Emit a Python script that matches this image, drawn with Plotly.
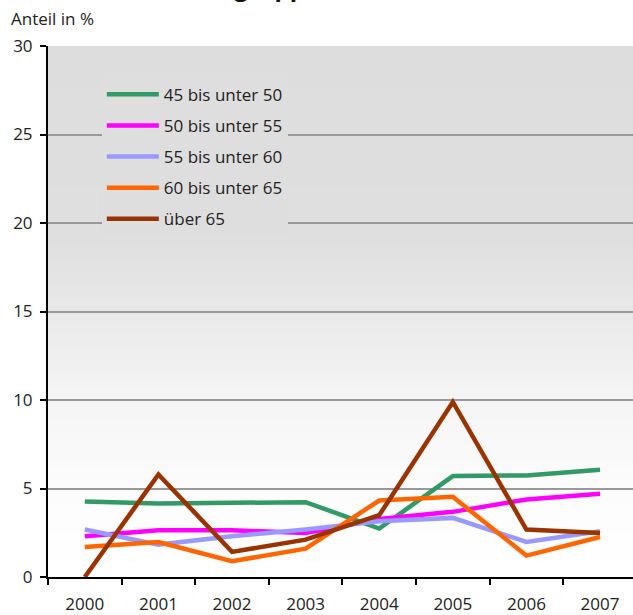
import zlib, struct, base64
import plotly.graph_objects as go

# ---- data ----
years = ["2000", "2001", "2002", "2003", "2004", "2005", "2006", "2007"]
s_45_50 = [4.26, 4.15, 4.19, 4.23, 2.74, 5.70, 5.74, 6.06]
s_50_55 = [2.30, 2.64, 2.64, 2.49, 3.28, 3.68, 4.38, 4.70]
s_55_60 = [2.68, 1.83, 2.30, 2.68, 3.15, 3.34, 1.98, 2.58]
s_60_65 = [1.70, 1.98, 0.89, 1.60, 4.32, 4.53, 1.21, 2.26]
s_65 = [0.00, 5.79, 1.42, 2.11, 3.49, 9.89, 2.68, 2.49]

series_names = ["45 bis unter 50", "50 bis unter 55", "55 bis unter 60",
                "60 bis unter 65", "über 65"]
series_values = [s_45_50, s_50_55, s_55_60, s_60_65, s_65]
series_colors = ["#339966", "#FF00FF", "#9999FF", "#FF6600", "#993300"]

y_ticks = [0, 5, 10, 15, 20, 25, 30]

FONT = "Open Sans"
FS = 17


# ---- gradient background image (top grey -> bottom white) ----
def gradient_png():
    stops = [(0.0, 221), (1 / 6, 222), (0.36, 223), (3 / 6, 233),
             (4 / 6, 245), (5 / 6, 252), (1.0, 255)]
    n = 300
    vals = []
    for i in range(n):
        t = i / (n - 1)
        v = 255
        for (t0, v0), (t1, v1) in zip(stops[:-1], stops[1:]):
            if t0 <= t <= t1:
                v = v0 + (v1 - v0) * (t - t0) / (t1 - t0)
                break
        vals.append(int(round(v)))
    raw = b"".join(b"\x00" + bytes([v]) for v in vals)

    def chunk(tag, data):
        c = struct.pack(">I", len(data)) + tag + data
        return c + struct.pack(">I", zlib.crc32(tag + data) & 0xFFFFFFFF)

    ihdr = struct.pack(">IIBBBBB", 1, n, 8, 0, 0, 0, 0)
    png = (b"\x89PNG\r\n\x1a\n" + chunk(b"IHDR", ihdr)
           + chunk(b"IDAT", zlib.compress(raw)) + chunk(b"IEND", b""))
    return "data:image/png;base64," + base64.b64encode(png).decode()


fig = go.Figure()
for name, vals, col in zip(series_names, series_values, series_colors):
    fig.add_trace(go.Scatter(
        x=years, y=vals, name=name, mode="lines",
        line=dict(color=col, width=4.5), legendgroup=name,
    ))

fig.update_layout(
    width=633, height=615,
    margin=dict(l=48, r=0, t=46, b=38, autoexpand=False),
    paper_bgcolor="white",
    plot_bgcolor="rgba(0,0,0,0)",
    font=dict(family=FONT, size=FS, color="#222222"),
    showlegend=True,
    legend=dict(
        x=0.092, y=0.942, xanchor="left", yanchor="top",
        bgcolor="#dedede", borderwidth=0,
        font=dict(family=FONT, size=FS, color="#222222"),
        traceorder="grouped", tracegroupgap=6, itemwidth=52,
        entrywidth=200, entrywidthmode="pixels",
    ),
    images=[dict(
        source=gradient_png(), xref="paper", yref="paper",
        x=0, y=1, sizex=1, sizey=1, sizing="stretch",
        xanchor="left", yanchor="top", layer="below",
    )],
    annotations=[
        dict(text="Anteil in %", xref="paper", yref="paper",
             x=-0.066, y=1.027, xanchor="left", yanchor="bottom",
             showarrow=False, font=dict(family=FONT, size=FS, color="#222222")),
        dict(text="<b>Altersgruppen</b>", xref="paper", yref="paper",
             x=0.494, y=1.077, xanchor="right", yanchor="bottom",
             showarrow=False, font=dict(family=FONT, size=24, color="#111111")),
    ],
)

fig.update_xaxes(
    type="category", range=[-0.5, 7.448],
    showline=True, linecolor="black", linewidth=2,
    ticks="outside", ticklen=6, tickwidth=2, tickcolor="black",
    tickson="boundaries", showgrid=False, zeroline=False,
    ticklabelstandoff=11,
    tickfont=dict(family=FONT, size=FS, color="#222222"),
)
fig.update_yaxes(
    range=[0, 30], tickvals=y_ticks,
    showline=True, linecolor="black", linewidth=2,
    ticks="outside", ticklen=6, tickwidth=2, tickcolor="black",
    showgrid=True, gridcolor="#999999", gridwidth=2, zeroline=False,
    ticklabelstandoff=4,
    tickfont=dict(family=FONT, size=FS, color="#222222"),
)

fig.write_html("out.html", config={"displayModeBar": False},
               post_script="document.body.style.margin='0px';")
